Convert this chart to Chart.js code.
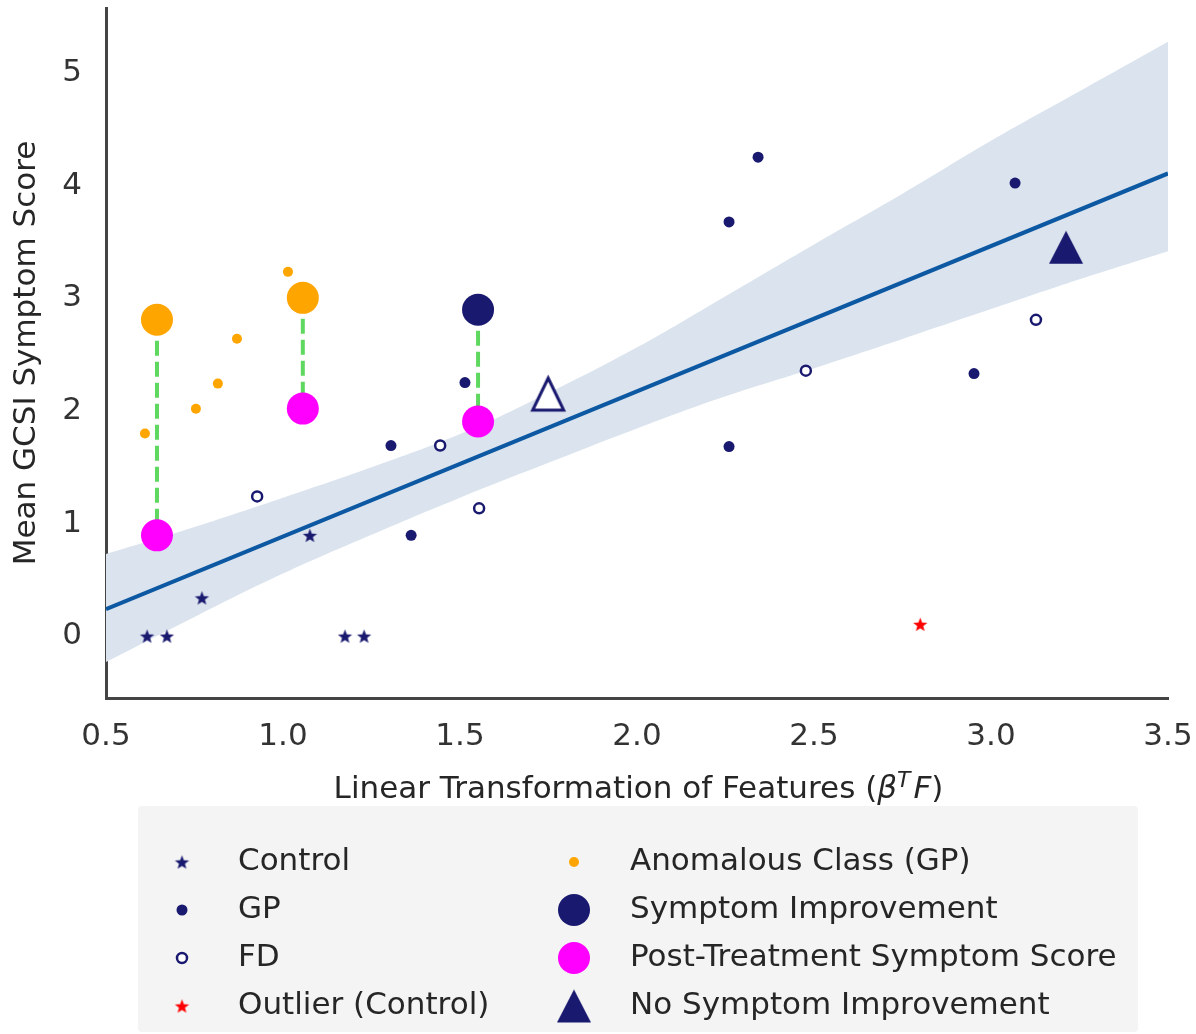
<!DOCTYPE html>
<html>
<head>
<meta charset="utf-8">
<script src="https://cdn.jsdelivr.net/npm/chart.js"></script>
<style>
  html, body { margin: 0; padding: 0; background: #fff; }
  #wrap { width: 1196px; height: 1034px; }
</style>
</head>
<body>
<div id="wrap"><canvas id="gcsiChart" width="1196" height="1034"></canvas></div>
<script>
// group scores vs linear score
const controlX = [0.616, 0.672, 0.771, 1.076, 1.175, 1.229];
const controlY = [0, 0, 0.34, 0.895, 0, 0];
const outlierX = [2.80];
const outlierY = [0.105];
const gpX = [1.305, 1.362, 1.514, 2.260, 2.342, 2.260, 2.952, 3.068];
const gpY = [1.693, 0.895, 2.252, 3.679, 4.255, 1.684, 2.332, 4.025];
const fdX = [0.927, 1.444, 1.554, 2.477, 3.127];
const fdY = [1.241, 1.693, 1.135, 2.358, 2.810];
const anomalousX = [0.610, 0.754, 0.816, 0.870, 1.014];
const anomalousY = [1.80, 2.02, 2.243, 2.642, 3.236];

// treated patients, score before and after treatment
const anomalousTreatedX = [0.644, 1.056];
const anomalousPreY = [2.81, 3.005];
const anomalousPostY = [0.895, 2.021];
const improvedX = [1.551];
const improvedPreY = [2.899];
const improvedPostY = [1.906];

// no improvement after treatment (GP filled, FD open)
const noImproveGpX = [3.212];
const noImproveGpY = [3.455];
const noImproveFdX = [1.749];
const noImproveFdY = [2.15];

// regression fit and its confidence band
const fitX = [0.5, 3.5];
const fitY = [0.24, 4.11];
const bandX = [0.5, 0.75, 1.0, 1.25, 1.5, 1.75, 2.0, 2.25, 2.5, 2.75, 3.0, 3.25, 3.5];
const bandLow = [-0.23, 0.17, 0.555, 0.90, 1.23, 1.54, 1.845, 2.13, 2.38, 2.64, 2.905, 3.17, 3.42];
const bandHigh = [0.73, 0.97, 1.23, 1.50, 1.795, 2.16, 2.565, 3.02, 3.48, 3.93, 4.40, 4.84, 5.28];

const xTicks = [0.5, 1.0, 1.5, 2.0, 2.5, 3.0, 3.5];
const yTicks = [0, 1, 2, 3, 4, 5];

const NAVY = '#191970';
const pts = (xs, ys) => xs.map((x, i) => ({ x: x, y: ys[i] }));

// pre -> post connectors, broken between patients
const connectors = [];
anomalousTreatedX.forEach((x, i) => {
    connectors.push({ x: x, y: anomalousPreY[i] }, { x: x, y: anomalousPostY[i] }, { x: x, y: null });
});
improvedX.forEach((x, i) => {
    connectors.push({ x: x, y: improvedPreY[i] }, { x: x, y: improvedPostY[i] }, { x: x, y: null });
});

// 5-point star marker
function starImage(color, r) {
    const c = document.createElement('canvas');
    const s = Math.ceil(r * 2 + 2);
    c.width = c.height = s;
    const g = c.getContext('2d');
    g.fillStyle = color;
    g.beginPath();
    for (let i = 0; i < 10; i++) {
        const rr = i % 2 ? r * 0.42 : r;
        const a = -Math.PI / 2 + i * Math.PI / 5;
        g.lineTo(s / 2 + rr * Math.cos(a), s / 2 + rr * Math.sin(a) + r * 0.1);
    }
    g.closePath();
    g.fill();
    return c;
}

// triangle centred on its bounding box
function triangleImage(fill, stroke, w, h, lw) {
    const c = document.createElement('canvas');
    c.width = Math.ceil(w + lw * 2 + 2);
    c.height = Math.ceil(h + lw * 2 + 2);
    const g = c.getContext('2d');
    const cx = c.width / 2, cy = c.height / 2;
    g.beginPath();
    g.moveTo(cx, cy - h / 2);
    g.lineTo(cx + w / 2, cy + h / 2);
    g.lineTo(cx - w / 2, cy + h / 2);
    g.closePath();
    g.fillStyle = fill;
    g.fill();
    if (lw > 0) {
        g.lineWidth = lw;
        g.lineJoin = 'miter';
        g.strokeStyle = stroke;
        g.stroke();
    }
    return c;
}

const navyStar = starImage(NAVY, 7.5);
const redStar = starImage('#ff0000', 7.5);
const navyTriangle = triangleImage(NAVY, NAVY, 34, 33, 0);
const openTriangle = triangleImage('#ffffff', NAVY, 31, 32, 3);

const legendOrder = ['Control', 'GP', 'FD', 'Outlier (Control)',
    'Anomalous Class (GP)', 'Symptom Improvement', 'Post-Treatment Symptom Score', 'No Symptom Improvement'];

// legend in a grey box under the axis, two columns
const boxLegend = {
    id: 'boxLegend',
    afterDraw(chart, args, opts) {
        const ctx = chart.ctx;
        const b = opts.box;
        ctx.save();
        ctx.fillStyle = '#f4f4f4';
        ctx.beginPath();
        ctx.roundRect(b.x, b.y, b.w, b.h, 4);
        ctx.fill();
        ctx.font = '31px "DejaVu Sans"';
        ctx.textBaseline = 'middle';
        ctx.textAlign = 'left';
        legendOrder.forEach((label, i) => {
            const ds = chart.data.datasets.find(d => d.label === label);
            const col = Math.floor(i / 4), row = i % 4;
            const y = b.y + opts.firstRow + row * opts.rowGap;
            const mx = b.x + opts.markerX[col];
            ctx.fillStyle = ds.backgroundColor;
            ctx.strokeStyle = ds.borderColor;
            ctx.lineWidth = ds.borderWidth || 0;
            Chart.helpers.drawPoint(ctx, {
                pointStyle: ds.pointStyle, rotation: 0,
                radius: ds.pointRadius, borderWidth: ds.borderWidth || 0
            }, mx, y);
            ctx.fillStyle = '#262626';
            ctx.fillText(label, b.x + opts.textX[col], y);
        });
        ctx.restore();
    }
};

// x-axis title with the italic beta-transpose-F term
const mathTitle = {
    id: 'mathTitle',
    afterDraw(chart, args, opts) {
        const ctx = chart.ctx;
        const xs = chart.scales.x;
        const parts = [
            { t: 'Linear Transformation of Features (', f: '31px "DejaVu Sans"', dy: 0 },
            { t: 'β', f: 'italic 31px "DejaVu Sans"', dy: 0 },
            { t: 'T', f: 'italic 22px "DejaVu Sans"', dy: -11 },
            { t: 'F', f: 'italic 31px "DejaVu Sans"', dy: 0 },
            { t: ')', f: '31px "DejaVu Sans"', dy: 0 }
        ];
        ctx.save();
        ctx.fillStyle = '#262626';
        ctx.textBaseline = 'alphabetic';
        ctx.textAlign = 'left';
        let total = 0;
        parts.forEach(p => { ctx.font = p.f; p.w = ctx.measureText(p.t).width; total += p.w; });
        let x = (xs.left + xs.right) / 2 - total / 2;
        const y = xs.top + opts.offset;
        parts.forEach(p => {
            ctx.font = p.f;
            ctx.fillText(p.t, x, y + p.dy);
            x += p.w + (p.t === 'T' ? 3 : 0);
        });
        ctx.restore();
    }
};

Chart.defaults.font.family = '"DejaVu Sans"';
Chart.defaults.font.size = 31;
Chart.defaults.color = '#262626';

const ctx = document.getElementById('gcsiChart').getContext('2d');
new Chart(ctx, {
    type: 'scatter',
    data: {
        datasets: [
            {
                label: 'band-low', type: 'line', data: pts(bandX, bandLow),
                borderWidth: 0, pointRadius: 0, fill: false, tension: 0.4, order: 20
            },
            {
                label: 'band-high', type: 'line', data: pts(bandX, bandHigh),
                borderWidth: 0, pointRadius: 0, fill: '-1', tension: 0.4,
                backgroundColor: '#dbe4ee', order: 19
            },
            {
                label: 'fit', type: 'line', data: pts(fitX, fitY),
                borderColor: '#0c58a2', borderWidth: 4, pointRadius: 0, fill: false, order: 18
            },
            {
                label: 'connector', type: 'line', data: connectors,
                borderColor: '#5fd85f', borderWidth: 4, borderDash: [15, 6],
                pointRadius: 0, fill: false, spanGaps: false, order: 15
            },
            {
                label: 'Control', data: pts(controlX, controlY),
                pointStyle: navyStar, pointRadius: 7, backgroundColor: NAVY, borderColor: NAVY, order: 6
            },
            {
                label: 'GP', data: pts(gpX, gpY),
                pointStyle: 'circle', pointRadius: 5.5, borderWidth: 0,
                backgroundColor: NAVY, borderColor: NAVY, order: 6
            },
            {
                label: 'FD', data: pts(fdX, fdY),
                pointStyle: 'circle', pointRadius: 5, borderWidth: 2.5,
                backgroundColor: '#ffffff', borderColor: NAVY, order: 7
            },
            {
                label: 'Outlier (Control)', data: pts(outlierX, outlierY),
                pointStyle: redStar, pointRadius: 7, backgroundColor: '#ff0000', borderColor: '#ff0000', order: 6
            },
            {
                label: 'Anomalous Class (GP)', data: pts(anomalousX, anomalousY),
                pointStyle: 'circle', pointRadius: 5, borderWidth: 0,
                backgroundColor: '#ffa500', borderColor: '#ffa500', order: 6
            },
            {
                label: 'anomalous-pre', data: pts(anomalousTreatedX, anomalousPreY),
                pointStyle: 'circle', pointRadius: 16, borderWidth: 0,
                backgroundColor: '#ffa500', borderColor: '#ffa500', order: 3
            },
            {
                label: 'Symptom Improvement', data: pts(improvedX, improvedPreY),
                pointStyle: 'circle', pointRadius: 16, borderWidth: 0,
                backgroundColor: NAVY, borderColor: NAVY, order: 3
            },
            {
                label: 'Post-Treatment Symptom Score',
                data: pts(anomalousTreatedX.concat(improvedX), anomalousPostY.concat(improvedPostY)),
                pointStyle: 'circle', pointRadius: 16, borderWidth: 0,
                backgroundColor: '#ff00ff', borderColor: '#ff00ff', order: 3
            },
            {
                label: 'No Symptom Improvement', data: pts(noImproveGpX, noImproveGpY),
                pointStyle: navyTriangle, pointRadius: 17, borderWidth: 0,
                backgroundColor: NAVY, borderColor: NAVY, order: 2
            },
            {
                label: 'no-improvement-fd', data: pts(noImproveFdX, noImproveFdY),
                pointStyle: openTriangle, pointRadius: 17, borderWidth: 0,
                backgroundColor: '#ffffff', borderColor: NAVY, order: 2
            }
        ]
    },
    options: {
        responsive: false,
        animation: false,
        events: [],
        layout: { autoPadding: false, padding: { top: 8, right: 28, bottom: 226, left: 0 } },
        plugins: {
            legend: { display: false },
            tooltip: { enabled: false },
            boxLegend: {
                box: { x: 138, y: 806, w: 1000, h: 226 },
                firstRow: 56, rowGap: 48,
                markerX: [44, 436], textX: [100, 492]
            },
            mathTitle: { offset: 100 }
        },
        scales: {
            x: {
                type: 'linear', min: 0.5, max: 3.5,
                grid: { display: false, drawTicks: false },
                border: { display: true, color: '#444444', width: 3 },
                afterBuildTicks: s => { s.ticks = xTicks.map(v => ({ value: v })); },
                afterFit: s => { s.height = 110; s.paddingLeft = 0; s.paddingRight = 0; },
                ticks: { padding: 20, maxRotation: 0, color: '#333333', callback: v => v.toFixed(1) }
            },
            y: {
                type: 'linear', min: -0.55, max: 5.58,
                grid: { display: false, drawTicks: false },
                border: { display: true, color: '#444444', width: 3 },
                afterBuildTicks: s => { s.ticks = yTicks.map(v => ({ value: v })); },
                afterFit: s => { s.width = 106; s.paddingTop = 0; s.paddingBottom = 0; },
                ticks: { padding: 24, color: '#333333', callback: v => String(v) },
                title: { display: true, text: 'Mean GCSI Symptom Score', padding: { top: 8, bottom: 0 } }
            }
        }
    },
    plugins: [boxLegend, mathTitle]
});
</script>
</body>
</html>
